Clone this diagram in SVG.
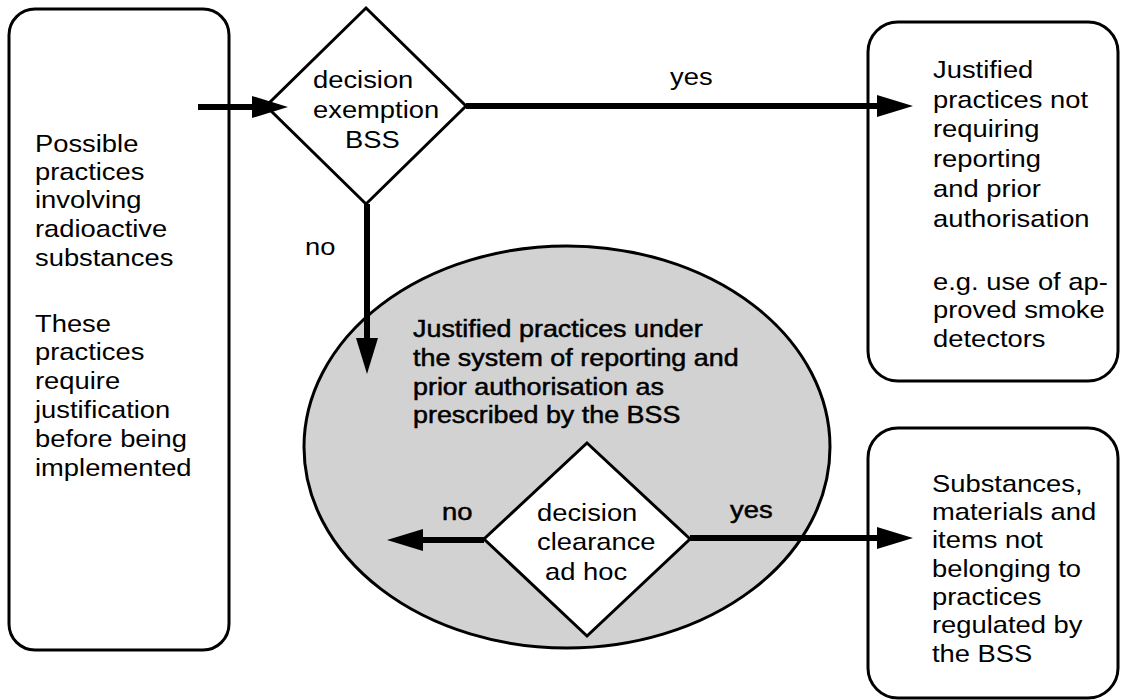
<svg xmlns="http://www.w3.org/2000/svg" width="1121" height="700" viewBox="0 0 1121 700">
  <style>
    .box { fill: #fff; stroke: #000; stroke-width: 3; }
    .dia { fill: #fff; stroke: #000; stroke-width: 3; stroke-linejoin: miter; }
    .zone { fill: #d2d2d2; stroke: #000; stroke-width: 3; }
    .t { font-family: "Liberation Sans", Arial, Helvetica, sans-serif; font-size: 24px; fill: #000; }
    .tb { stroke: #000; stroke-width: 0.5; }
    .edge { stroke: #000; stroke-width: 6; fill: none; marker-end: url(#ah); }
  </style>
  <defs>
    <marker id="ah" markerUnits="userSpaceOnUse" markerWidth="36" markerHeight="22" refX="0" refY="11" orient="auto" overflow="visible">
      <path d="M0,0 L36,11 L0,22 z" fill="#000"/>
    </marker>
  </defs>

  <rect width="1121" height="700" fill="#fff"/>

  <!-- starting point: possible practices -->
  <g id="possible-practices">
    <rect class="box" x="9" y="9" width="220" height="641" rx="26" ry="26"/>
    <text class="t" transform="translate(35,0) scale(1.14,1)">
      <tspan x="0" y="152">Possible</tspan>
      <tspan x="0" y="180">practices</tspan>
      <tspan x="0" y="208">involving</tspan>
      <tspan x="0" y="237">radioactive</tspan>
      <tspan x="0" y="266">substances</tspan>
      <tspan x="0" y="332">These</tspan>
      <tspan x="0" y="360">practices</tspan>
      <tspan x="0" y="389">require</tspan>
      <tspan x="0" y="418">justification</tspan>
      <tspan x="0" y="447">before being</tspan>
      <tspan x="0" y="476">implemented</tspan>
    </text>
  </g>

  <!-- first decision: exemption -->
  <g id="decision-exemption">
    <polygon class="dia" points="366,8 466,106 366,204 266,106"/>
    <text class="t" transform="translate(313,0) scale(1.14,1)">
      <tspan x="0" y="88">decision</tspan>
      <tspan x="0" y="118">exemption</tspan>
      <tspan x="28" y="148">BSS</tspan>
    </text>
  </g>

  <!-- exempted practices -->
  <g id="exempt-practices">
    <rect class="box" x="868" y="22" width="250" height="359" rx="30" ry="30"/>
    <text class="t" transform="translate(933,0) scale(1.14,1)">
      <tspan x="0" y="78">Justified</tspan>
      <tspan x="0" y="108">practices not</tspan>
      <tspan x="0" y="137">requiring</tspan>
      <tspan x="0" y="167">reporting</tspan>
      <tspan x="0" y="197">and prior</tspan>
      <tspan x="0" y="227">authorisation</tspan>
      <tspan x="0" y="290">e.g. use of ap-</tspan>
      <tspan x="0" y="318">proved smoke</tspan>
      <tspan x="0" y="347">detectors</tspan>
    </text>
  </g>

  <!-- regulated practices zone -->
  <g id="regulated-practices">
    <ellipse class="zone" cx="567" cy="447" rx="263" ry="201"/>
    <text class="t tb" transform="translate(413,0) scale(1.12,1)">
      <tspan x="0" y="337">Justified practices under</tspan>
      <tspan x="0" y="366">the system of reporting and</tspan>
      <tspan x="0" y="395">prior authorisation as</tspan>
      <tspan x="0" y="423">prescribed by the BSS</tspan>
    </text>
  </g>

  <!-- second decision: clearance -->
  <g id="decision-clearance">
    <polygon class="dia" points="587,443 690,539 587,636 484,539"/>
    <text class="t" transform="translate(537,0) scale(1.14,1)">
      <tspan x="0" y="521">decision</tspan>
      <tspan x="0" y="550">clearance</tspan>
      <tspan x="7" y="580">ad hoc</tspan>
    </text>
  </g>

  <!-- cleared material -->
  <g id="cleared-items">
    <rect class="box" x="868" y="428" width="250" height="270" rx="30" ry="30"/>
    <text class="t" transform="translate(932,0) scale(1.14,1)">
      <tspan x="0" y="492">Substances,</tspan>
      <tspan x="0" y="520">materials and</tspan>
      <tspan x="0" y="548">items not</tspan>
      <tspan x="0" y="577">belonging to</tspan>
      <tspan x="0" y="605">practices</tspan>
      <tspan x="0" y="633">regulated by</tspan>
      <tspan x="0" y="662">the BSS</tspan>
    </text>
  </g>

  <!-- connectors -->
  <g id="connectors">
    <line class="edge" x1="198" y1="107" x2="252" y2="107"/>
    <line class="edge" x1="466" y1="106" x2="877" y2="106"/>
    <line class="edge" x1="367" y1="204" x2="367" y2="338"/>
    <line class="edge" x1="690" y1="538" x2="877" y2="538"/>
    <line class="edge" x1="484" y1="540" x2="423" y2="540"/>
    <g class="t">
      <text transform="translate(670,85) scale(1.14,1)">yes</text>
      <text transform="translate(305,255) scale(1.14,1)">no</text>
      <text class="tb" transform="translate(442,520) scale(1.14,1)">no</text>
      <text class="tb" transform="translate(730,518) scale(1.14,1)">yes</text>
    </g>
  </g>
</svg>
